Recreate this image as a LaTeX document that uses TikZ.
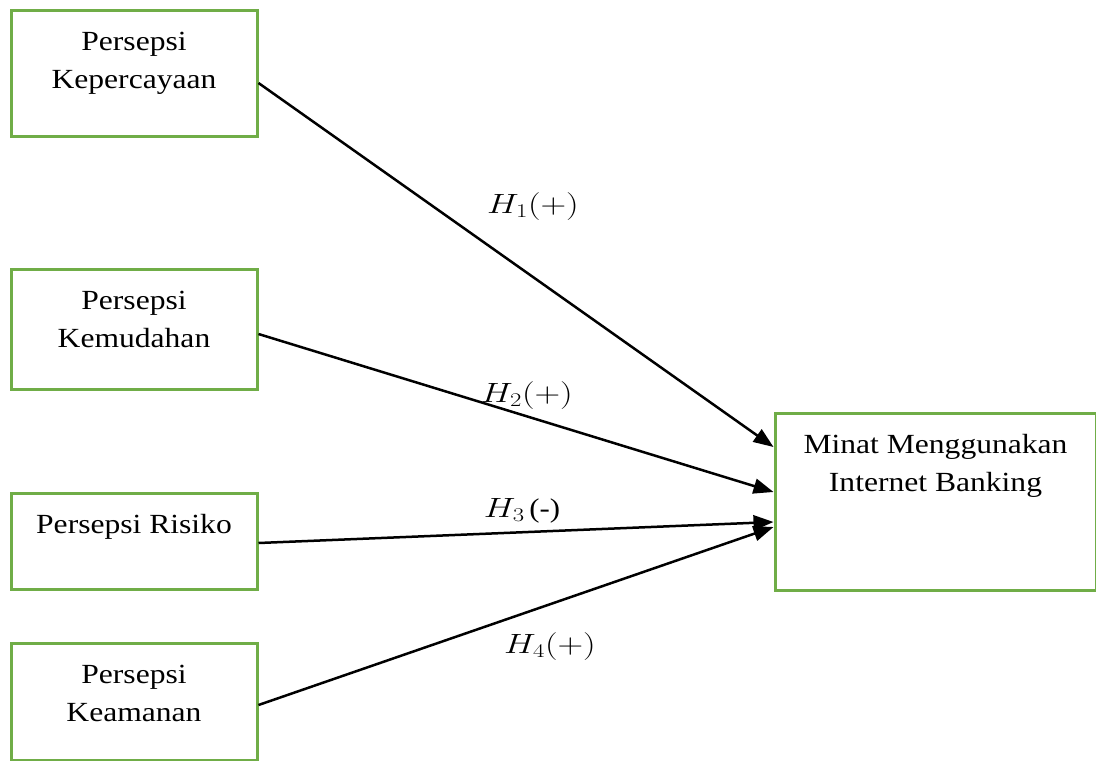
\documentclass[tikz,border=0pt]{standalone}
\usepackage{fontspec}
\setmainfont{Liberation Serif}[FakeStretch=1.14]
\usepackage{graphicx}
\usetikzlibrary{arrows.meta}
\definecolor{boxgreen}{RGB}{112,173,71}
\newcommand{\vartext}[3]{\parbox[c][#2][t]{#1}{\centering\rule{0pt}{40pt}#3}}
\newcommand{\hmath}[1]{\scalebox{1.43}[1.12]{$#1$}}

\begin{document}
\begin{tikzpicture}[x=1pt,y=-1pt]
	\tikzset{
		var/.style={draw=boxgreen,line width=3pt,inner sep=0pt,font=\fontsize{27.7}{38}\selectfont},
		link/.style={line width=2.5pt,-{Triangle[length=20pt,width=15pt]}},
		hyp/.style={anchor=base,inner sep=0pt,font=\fontsize{27}{30}\selectfont}}
	\useasboundingbox (0,0) rectangle (1096,761);
	\node[var](kep) at (134,73){\vartext{246pt}{126pt}{Persepsi\\Kepercayaan}};
	\node[var](kem) at (134,329){\vartext{246pt}{120pt}{Persepsi\\Kemudahan}};
	\node[var](ris) at (134,541){\vartext{246pt}{96pt}{Persepsi Risiko}};
	\node[var](kea) at (134,701.5){\vartext{246pt}{117pt}{Persepsi\\Keamanan}};
	\node[var](minat) at (935.5,501.5){\vartext{321pt}{177pt}{Minat Menggunakan\\Internet Banking}};
	\draw[link]([yshift=-10pt]kep.east)--([yshift=54.5pt]minat.west);
	\draw[link]([yshift=-5pt]kem.east)--([yshift=9.5pt]minat.west);
	\draw[link]([yshift=-2pt]ris.east)--([yshift=-20.5pt]minat.west);
	\draw[link]([yshift=-3.5pt]kea.east)--([yshift=-25.5pt]minat.west);
	% hypothesis labels
	\node[hyp](h1) at (533,213){\hmath{H_1(+)}};
	\node[hyp](h2) at (527,402){\hmath{H_2(+)}};
	\node[hyp](h3) at (522,517){\hmath{H_3}\,(-)};
	\node[hyp](h4) at (550,653){\hmath{H_4(+)}};
\end{tikzpicture}
\end{document}
